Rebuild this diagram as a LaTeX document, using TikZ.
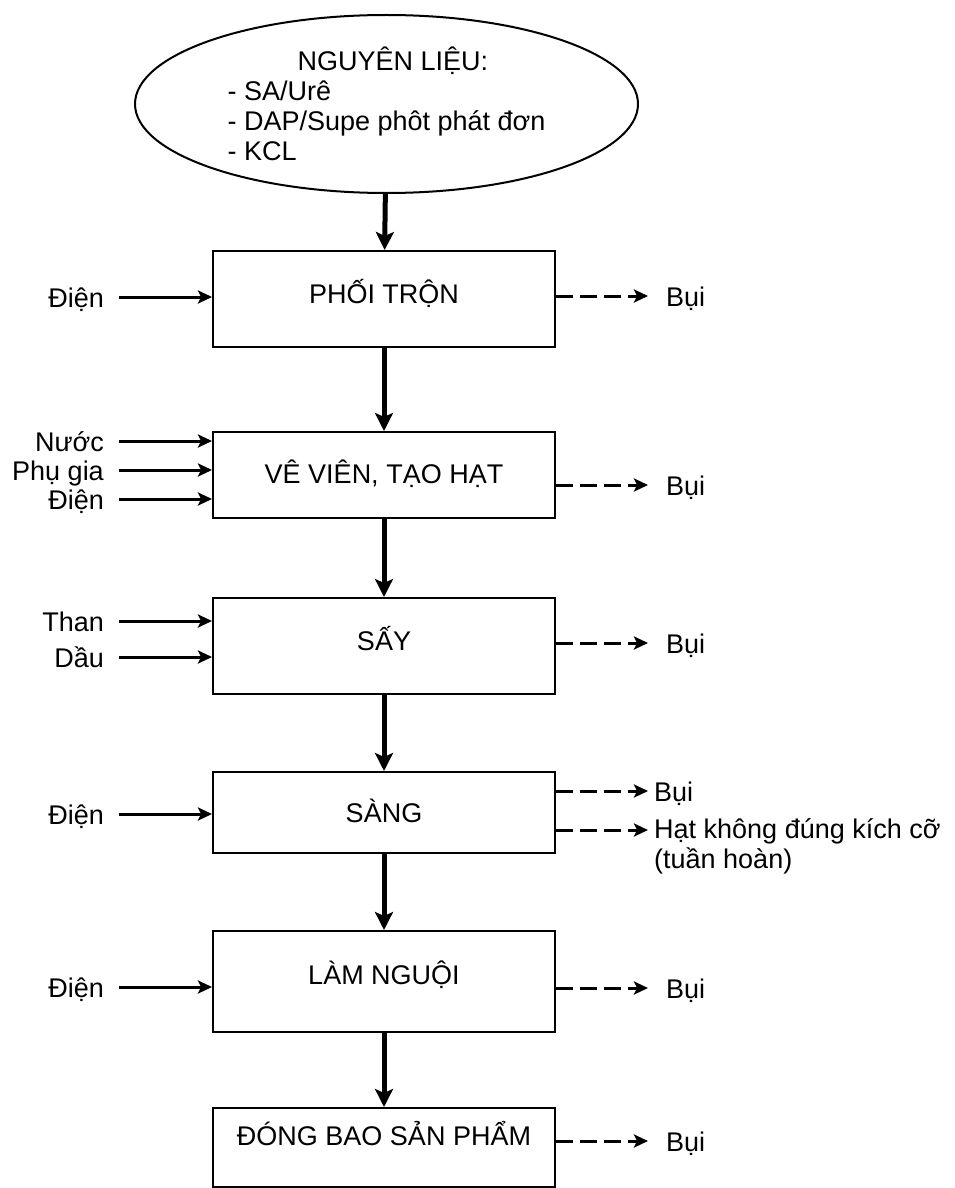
\documentclass[tikz,border=0pt]{standalone}
\usepackage{fontspec}
\setmainfont{Liberation Sans}
\usetikzlibrary{arrows.meta,shapes.geometric}

\begin{document}
\begin{tikzpicture}[x=1pt,y=-1pt,
  font=\fontsize{27}{30}\selectfont,
  stage/.style={draw, line width=2pt, minimum width=342pt, inner sep=0pt, text height=20pt},
  feedstock/.style={draw, ellipse, line width=2pt, minimum width=503pt, minimum height=178pt, inner sep=0pt, align=left},
  lbl/.style={inner sep=0pt, text height=20pt, text depth=0pt},
  flow/.style={line width=5pt, -{Stealth[length=18pt, width=18pt, inset=4pt]}},
  feed/.style={line width=3pt, shorten <=15pt, -{Stealth[length=14pt, width=13pt, inset=3pt]}},
  dust/.style={line width=3pt, dash pattern=on 17pt off 7pt, shorten >=18pt, -{Stealth[length=14pt, width=13pt, inset=3pt]}}]
\useasboundingbox (0,0) rectangle (954,1188);
\node[feedstock] (nguyenlieu) at (386.5,104) {\hspace*{70pt}NGUYÊN LIỆU:\\- SA/Urê\\- DAP/Supe phôt phát đơn\hspace*{14pt}\\- KCL};
\node[stage, minimum height=96pt, text depth=12pt] (phoitron) at (384,299) {PHỐI TRỘN};
\node[stage, minimum height=86pt, text depth=4pt] (vevien) at (384,475) {VÊ VIÊN, TẠO HẠT};
\node[stage, minimum height=96pt, text depth=12pt] (say) at (384,646) {SẤY};
\node[stage, minimum height=81pt, text depth=0pt] (sang) at (384,812.5) {SÀNG};
\node[stage, minimum height=101pt, text depth=15pt] (lamnguoi) at (384,981.5) {LÀM NGUỘI};
\node[stage, minimum height=79pt, text depth=25pt] (dongbao) at (384,1147.5) {ĐÓNG BAO SẢN PHẨM};
\draw[flow] (nguyenlieu) -- (phoitron);
\draw[flow] (phoitron) -- (vevien);
\draw[flow] (vevien) -- (say);
\draw[flow] (say) -- (sang);
\draw[flow] (sang) -- (lamnguoi);
\draw[flow] (lamnguoi) -- (dongbao);
\node[lbl, anchor=east] (dien1) at (104,297) {Điện};
\node[lbl, anchor=east] (nuoc) at (104,441) {Nước};
\node[lbl, anchor=east] (phugia) at (104,470) {Phụ gia};
\node[lbl, anchor=east] (dien2) at (104,499) {Điện};
\node[lbl, anchor=east] (than) at (104,621) {Than};
\node[lbl, anchor=east] (dau) at (104,657) {Dầu};
\node[lbl, anchor=east] (dien3) at (104,814) {Điện};
\node[lbl, anchor=east] (dien4) at (104,987) {Điện};
\draw[feed] (dien1.east) -- (dien1.east -| phoitron.west);
\draw[feed] (nuoc.east) -- (nuoc.east -| vevien.west);
\draw[feed] (phugia.east) -- (phugia.east -| vevien.west);
\draw[feed] (dien2.east) -- (dien2.east -| vevien.west);
\draw[feed] (than.east) -- (than.east -| say.west);
\draw[feed] (dau.east) -- (dau.east -| say.west);
\draw[feed] (dien3.east) -- (dien3.east -| sang.west);
\draw[feed] (dien4.east) -- (dien4.east -| lamnguoi.west);
\node[lbl, anchor=west] (bui1) at (666,296) {Bụi};
\node[lbl, anchor=west] (bui2) at (666,485) {Bụi};
\node[lbl, anchor=west] (bui3) at (666,643) {Bụi};
\node[lbl, anchor=west] (bui4) at (654,791) {Bụi};
\node[inner sep=0pt, anchor=west, align=left] (hat) at (654,846) {Hạt không đúng kích cỡ\\(tuần hoàn)};
\coordinate (hatend) at (648,830);
\node[lbl, anchor=west] (bui5) at (666,988) {Bụi};
\node[lbl, anchor=west] (bui6) at (666,1141) {Bụi};
\draw[dust] (bui1.west -| phoitron.east) -- (bui1.west);
\draw[dust] (bui2.west -| vevien.east) -- (bui2.west);
\draw[dust] (bui3.west -| say.east) -- (bui3.west);
\draw[dust, shorten >=6pt] (bui4.west -| sang.east) -- (bui4.west);
\draw[dust, shorten >=0pt] (hatend -| sang.east) -- (hatend);
\draw[dust] (bui5.west -| lamnguoi.east) -- (bui5.west);
\draw[dust] (bui6.west -| dongbao.east) -- (bui6.west);
\end{tikzpicture}
\end{document}
